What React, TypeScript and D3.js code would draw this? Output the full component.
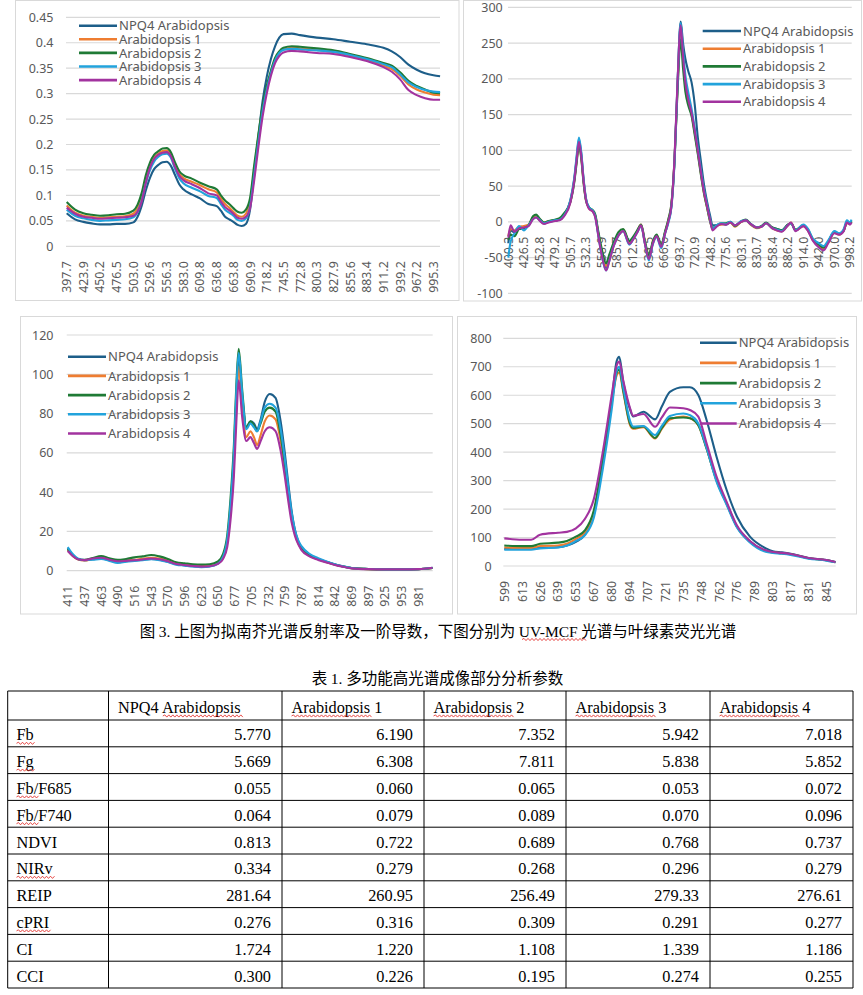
import * as d3 from 'd3';

const seriesNames = ['NPQ4 Arabidopsis', 'Arabidopsis 1', 'Arabidopsis 2', 'Arabidopsis 3', 'Arabidopsis 4'];
const seriesColors = ['#1d5e89', '#ee7d31', '#1f7a35', '#22a3dc', '#a2339f'];

// ---- reflectance (top left)
const reflTicks = [397.7, 423.9, 450.2, 476.5, 503.0, 529.6, 556.3, 583.0, 609.8, 636.8, 663.8, 690.9, 718.2, 745.5, 772.8, 800.3, 827.9, 855.6, 883.4, 911.2, 939.2, 967.2, 995.3];
const reflY = [0, 0.05, 0.1, 0.15, 0.2, 0.25, 0.3, 0.35, 0.4, 0.45];
const reflWl = [397.7, 410.8, 423.9, 437.0, 450.2, 463.3, 476.5, 489.8, 503.0, 509.7, 516.3, 522.9, 529.6, 536.3, 543.0, 549.6, 556.3, 563.0, 569.6, 576.3, 583.0, 596.4, 609.8, 623.3, 636.8, 643.5, 650.3, 657.0, 663.8, 670.6, 677.3, 684.1, 690.9, 697.7, 704.5, 711.4, 718.2, 725.0, 731.8, 738.7, 745.5, 759.1, 772.8, 800.3, 827.9, 855.6, 883.4, 911.2, 925.2, 939.2, 953.2, 967.2, 981.2, 995.3, 1006.5];
const reflNpq4 = [0.065, 0.053, 0.048, 0.045, 0.043, 0.043, 0.044, 0.044, 0.047, 0.058, 0.080, 0.110, 0.135, 0.152, 0.160, 0.165, 0.166, 0.158, 0.140, 0.122, 0.112, 0.102, 0.094, 0.083, 0.079, 0.070, 0.058, 0.053, 0.048, 0.042, 0.040, 0.044, 0.072, 0.145, 0.215, 0.285, 0.333, 0.368, 0.393, 0.410, 0.417, 0.418, 0.415, 0.410, 0.407, 0.402, 0.397, 0.390, 0.383, 0.372, 0.357, 0.347, 0.340, 0.336, 0.334];
const reflA1 = [0.080, 0.066, 0.060, 0.058, 0.056, 0.057, 0.058, 0.059, 0.064, 0.075, 0.098, 0.132, 0.158, 0.174, 0.182, 0.187, 0.188, 0.180, 0.160, 0.143, 0.134, 0.127, 0.120, 0.112, 0.106, 0.094, 0.083, 0.076, 0.068, 0.060, 0.058, 0.064, 0.088, 0.150, 0.215, 0.270, 0.310, 0.342, 0.367, 0.380, 0.387, 0.390, 0.389, 0.386, 0.382, 0.375, 0.366, 0.355, 0.348, 0.335, 0.318, 0.308, 0.302, 0.298, 0.297];
const reflA2 = [0.087, 0.072, 0.065, 0.062, 0.060, 0.061, 0.063, 0.064, 0.070, 0.082, 0.105, 0.140, 0.165, 0.180, 0.187, 0.192, 0.193, 0.185, 0.165, 0.148, 0.140, 0.133, 0.125, 0.118, 0.112, 0.100, 0.090, 0.083, 0.075, 0.068, 0.066, 0.072, 0.095, 0.160, 0.220, 0.275, 0.315, 0.345, 0.370, 0.383, 0.390, 0.393, 0.392, 0.389, 0.385, 0.378, 0.370, 0.360, 0.355, 0.342, 0.325, 0.315, 0.308, 0.302, 0.301];
const reflA3 = [0.072, 0.060, 0.055, 0.052, 0.050, 0.051, 0.052, 0.053, 0.057, 0.068, 0.090, 0.124, 0.150, 0.167, 0.176, 0.181, 0.182, 0.174, 0.152, 0.134, 0.124, 0.115, 0.108, 0.099, 0.095, 0.083, 0.072, 0.066, 0.060, 0.052, 0.050, 0.055, 0.078, 0.140, 0.205, 0.265, 0.307, 0.340, 0.365, 0.380, 0.386, 0.388, 0.387, 0.385, 0.382, 0.376, 0.368, 0.358, 0.352, 0.338, 0.322, 0.313, 0.307, 0.304, 0.303];
const reflA4 = [0.076, 0.064, 0.058, 0.056, 0.054, 0.055, 0.056, 0.057, 0.060, 0.068, 0.088, 0.125, 0.155, 0.172, 0.180, 0.184, 0.185, 0.177, 0.156, 0.139, 0.130, 0.122, 0.114, 0.104, 0.100, 0.088, 0.077, 0.071, 0.064, 0.056, 0.054, 0.058, 0.075, 0.130, 0.195, 0.255, 0.300, 0.335, 0.360, 0.374, 0.381, 0.384, 0.383, 0.380, 0.378, 0.372, 0.364, 0.352, 0.343, 0.328, 0.307, 0.297, 0.291, 0.288, 0.288];

// ---- first derivative (top right)
const derivTicks = [400.3, 426.5, 452.8, 479.2, 505.7, 532.3, 558.9, 585.7, 612.5, 639.5, 666.6, 693.7, 720.9, 748.2, 775.6, 803.1, 830.7, 858.4, 886.2, 914.0, 942.0, 970.0, 998.2];
const derivY = [-100, -50, 0, 50, 100, 150, 200, 250, 300];
const derivWl = [400.3, 404.2, 410.8, 418.6, 426.5, 434.4, 442.3, 447.5, 452.8, 460.7, 468.6, 479.2, 487.2, 495.1, 505.7, 512.4, 516.3, 520.3, 524.3, 528.3, 532.3, 537.6, 544.3, 548.3, 553.6, 558.9, 566.9, 572.3, 580.3, 588.4, 596.4, 607.1, 612.5, 620.6, 627.4, 634.1, 640.9, 647.6, 654.4, 662.5, 669.3, 674.7, 680.2, 685.6, 691.0, 696.4, 700.5, 704.6, 710.0, 715.5, 720.9, 726.4, 731.8, 737.3, 742.7, 748.2, 752.3, 759.2, 767.4, 775.6, 783.9, 792.1, 803.1, 811.4, 819.7, 830.7, 839.0, 847.3, 858.4, 866.7, 875.1, 886.2, 891.8, 900.1, 914.0, 922.4, 930.8, 942.0, 950.4, 958.8, 970.0, 978.5, 986.9, 992.6, 998.2, 1001.0];
const derivNpq4 = [-30, -12, -15, -8, -8, -5, 5, 7, 3, -2, 0, 2, 3, 10, 30, 60, 88, 115, 95, 58, 32, 20, 15, 8, -18, -42, -64, -52, -32, -18, -12, -30, -25, -14, -5, -30, -50, -30, -20, -34, -15, 0, 22, 85, 195, 280, 250, 228, 210, 195, 165, 118, 85, 52, 28, 8, -5, -5, -3, -4, -1, -5, 0, 2, -3, -8, -6, -2, -8, -10, -12, -4, -2, -12, -5, -12, -25, -33, -37, -28, -14, -17, -12, 0, -3, 0];
const derivA1 = [-20, -10, -12, -7, -6, -4, 6, 7, 4, -1, 1, 2, 4, 10, 28, 58, 85, 110, 90, 55, 30, 19, 14, 8, -17, -40, -62, -50, -30, -17, -11, -29, -24, -13, -4, -29, -50, -29, -19, -33, -14, 2, 24, 85, 190, 268, 228, 192, 168, 150, 125, 97, 68, 40, 20, 0, -10, -6, -4, -3, -1, -7, 0, 2, -4, -9, -7, -2, -9, -12, -13, -5, -1, -12, -6, -12, -25, -34, -38, -29, -15, -18, -12, -2, -3, 0];
const derivA2 = [-25, -18, -20, -10, -9, -5, 8, 10, 5, -1, 1, 3, 5, 12, 28, 56, 82, 108, 88, 54, 30, 20, 16, 10, -14, -36, -58, -46, -28, -14, -10, -27, -22, -12, -4, -27, -47, -28, -18, -32, -13, 3, 25, 85, 185, 255, 215, 182, 162, 148, 122, 95, 66, 40, 20, 0, -9, -5, -2, -2, 0, -6, 1, 3, -3, -8, -6, -1, -8, -10, -12, -4, -2, -11, -5, -11, -24, -32, -36, -28, -14, -17, -12, -1, -2, 1];
const derivA3 = [-50, -28, -16, -6, -12, -5, 4, 6, 3, -2, 0, 2, 3, 9, 30, 62, 92, 118, 97, 60, 33, 20, 15, 7, -20, -45, -68, -55, -33, -19, -13, -32, -26, -15, -6, -31, -54, -32, -21, -37, -16, -2, 20, 82, 195, 278, 240, 205, 180, 158, 132, 103, 73, 45, 24, 3, -10, -5, -2, -3, 0, -5, 1, 2, -3, -8, -7, -2, -9, -11, -13, -5, -2, -12, -4, -10, -23, -30, -34, -26, -13, -16, -10, 2, -1, 3];
const derivA4 = [-22, -5, -14, -9, -8, -6, 4, 6, 2, -3, -1, 1, 2, 8, 27, 58, 86, 112, 92, 57, 31, 18, 14, 6, -20, -45, -68, -55, -33, -19, -13, -31, -26, -15, -5, -31, -52, -31, -20, -35, -16, 0, 22, 88, 198, 275, 232, 195, 170, 152, 128, 100, 70, 42, 22, 2, -12, -7, -3, -4, -1, -5, 0, 2, -3, -8, -7, -2, -9, -12, -14, -5, -1, -13, -6, -13, -26, -36, -40, -30, -16, -18, -13, -1, -4, -1];

// ---- UV-MCF (bottom left)
const mcfTicks = [411, 437, 463, 490, 516, 543, 570, 596, 623, 650, 677, 705, 732, 759, 787, 814, 842, 869, 897, 925, 953, 981];
const mcfY = [0, 20, 40, 60, 80, 100, 120];
const mcfWl = [411, 418.8, 426.6, 437, 450, 463, 476.5, 490, 503, 516, 529.5, 543, 556.5, 570, 583, 596, 609.5, 623, 636.5, 650, 658.1, 664.9, 670.3, 675.7, 679.8, 683.7, 689.6, 696.6, 703.3, 709.1, 714.2, 719.9, 726.6, 734.7, 744.0, 752.3, 759, 764.6, 770.2, 775.8, 781.4, 787, 800.5, 814, 828, 842, 855.5, 869, 897, 925, 953, 981, 1004.8];
const mcfNpq4 = [11.5, 8, 6, 5.3, 5.8, 6.2, 5.3, 4.3, 4.8, 5.2, 5.6, 6, 5.6, 4.6, 3.3, 2.8, 2.3, 2, 2.3, 3.8, 7, 15, 32, 58, 88, 108, 88, 73, 76, 75, 72, 77, 86, 90, 88, 76, 60, 45, 31, 21, 15, 12, 8, 6, 4.5, 3.2, 2.2, 1.4, 0.9, 0.7, 0.7, 0.8, 1.4];
const mcfA1 = [10.5, 7.5, 5.8, 5.2, 6, 6.5, 5.6, 4.8, 5.2, 5.6, 6, 6.6, 6.2, 5.2, 3.8, 3.2, 2.7, 2.4, 2.6, 4, 7, 14, 30, 55, 84, 104, 84, 68, 71, 68, 64, 69, 76, 79, 77, 66, 52, 39, 27, 19, 14, 11, 7.5, 5.8, 4.3, 3, 2.1, 1.3, 0.8, 0.7, 0.7, 0.8, 1.4];
const mcfA2 = [11, 8, 6, 5.5, 6.5, 7.5, 6.3, 5.5, 6, 6.8, 7.3, 8, 7.3, 6, 4.3, 3.8, 3.3, 3.1, 3.3, 4.8, 8.5, 18, 37, 64, 95, 113, 92, 73, 76, 74, 71, 75, 81, 83, 81, 69, 54, 40, 28, 20, 14.5, 11.5, 7.8, 6, 4.4, 3.1, 2.1, 1.3, 0.8, 0.7, 0.7, 0.8, 1.4];
const mcfA3 = [12, 8.5, 6.2, 5.4, 5.6, 6, 5, 4, 4.6, 5, 5.4, 5.8, 5.4, 4.4, 3.1, 2.6, 2.1, 1.8, 2.1, 3.6, 7, 16, 34, 60, 92, 111, 90, 72, 75, 73, 71, 76, 83, 85, 83, 72, 57, 43, 30, 21, 15.5, 12.5, 8.5, 6.4, 4.7, 3.3, 2.2, 1.4, 0.9, 0.7, 0.7, 0.8, 1.5];
const mcfA4 = [10, 7.5, 5.8, 5.4, 6.2, 6.6, 5.6, 4.8, 5, 5.3, 5.7, 6.2, 5.8, 4.8, 3.4, 2.9, 2.4, 2.1, 2.3, 3.5, 6, 12, 26, 48, 76, 97, 78, 66, 68, 65, 62, 66, 71, 73, 71, 61, 48, 36, 25, 18, 13.5, 10.5, 7.2, 5.5, 4.2, 2.9, 2, 1.2, 0.8, 0.7, 0.7, 0.8, 1.5];

// ---- chlorophyll fluorescence (bottom right)
const chlTicks = [599, 613, 626, 639, 653, 667, 680, 694, 707, 721, 735, 748, 762, 776, 789, 803, 817, 831, 845];
const chlY = [0, 100, 200, 300, 400, 500, 600, 700, 800];
const chlWl = [599, 613, 619.5, 626, 639, 646, 653, 660, 667, 673.5, 680, 683.9, 685.9, 689.1, 694.3, 696.6, 704, 712.9, 718.2, 724.5, 735, 739.8, 745.9, 752.2, 760, 767.9, 776, 785.4, 797.6, 803, 810, 817, 831, 845, 852];
const chlNpq4 = [60, 60, 60, 64, 66, 72, 85, 110, 180, 370, 580, 720, 735, 645, 550, 525, 542, 515, 560, 612, 628, 628, 601, 513, 384, 267, 173, 103, 62, 52, 48, 43, 28, 21, 14];
const chlA1 = [65, 63, 63, 70, 72, 78, 95, 118, 185, 365, 570, 670, 680, 610, 495, 482, 488, 448, 482, 515, 525, 520, 495, 413, 300, 218, 138, 85, 52, 48, 45, 41, 27, 20, 13];
const chlA2 = [72, 70, 70, 78, 82, 88, 103, 125, 195, 370, 575, 680, 690, 615, 500, 485, 490, 450, 485, 519, 522, 519, 495, 413, 302, 220, 138, 86, 53, 48, 45, 41, 27, 20, 13];
const chlA3 = [57, 57, 57, 62, 65, 72, 88, 108, 170, 340, 550, 685, 700, 625, 510, 490, 492, 460, 492, 527, 536, 530, 501, 415, 296, 215, 135, 83, 50, 46, 43, 39, 26, 19, 13];
const chlA4 = [97, 92, 92, 110, 117, 120, 132, 165, 235, 400, 600, 705, 718, 650, 555, 528, 534, 489, 522, 557, 554, 548, 525, 431, 314, 225, 142, 88, 55, 49, 46, 42, 28, 21, 14];

// ---- table
const paramNames = ['Fb', 'Fg', 'Fb/F685', 'Fb/F740', 'NDVI', 'NIRv', 'REIP', 'cPRI', 'CI', 'CCI'];
const paramDigits = [3, 3, 3, 3, 3, 3, 2, 3, 3, 3];
const paramNpq4 = [5.770, 5.669, 0.055, 0.064, 0.813, 0.334, 281.64, 0.276, 1.724, 0.300];
const paramA1 = [6.190, 6.308, 0.060, 0.079, 0.722, 0.279, 260.95, 0.316, 1.220, 0.226];
const paramA2 = [7.352, 7.811, 0.065, 0.089, 0.689, 0.268, 256.49, 0.309, 1.108, 0.195];
const paramA3 = [5.942, 5.838, 0.053, 0.070, 0.768, 0.296, 279.33, 0.291, 1.339, 0.274];
const paramA4 = [7.018, 5.852, 0.072, 0.096, 0.737, 0.279, 276.61, 0.277, 1.186, 0.255];

const FONT = "'Noto Sans', 'DejaVu Sans', sans-serif";
const SERIF = "'Liberation Serif', 'Times New Roman', serif";
const CJK = "'Noto Sans CJK SC', sans-serif";
const GRID = '#d9d9d9';
const INK = '#595959';

interface Layout {
  box: [number, number, number, number];
  left: number; right: number;
  yTop: number; yBottom: number;
  x0: number; step: number;
  yLabelX: number;
  legendX: number; legendY: number; legendDy: number; legendLen: number;
}

function SpectrumPanel({ layout, wl, series, xTicks, digits, yTicks }: {
  layout: Layout; wl: number[]; series: number[][]; xTicks: number[]; digits: number; yTicks: number[];
}) {
  const x = d3.scaleLinear()
    .domain(xTicks)
    .range(xTicks.map((_, i) => layout.x0 + i * layout.step));
  const y = d3.scaleLinear()
    .domain(d3.extent(yTicks) as [number, number])
    .range([layout.yBottom, layout.yTop]);
  const line = d3.line<number>()
    .x((_, i) => x(wl[i]))
    .y(d => y(d))
    .curve(d3.curveMonotoneX);
  const axisY = y(0);
  const [bx, by, bw, bh] = layout.box;

  return (
    <g>
      <rect x={bx} y={by} width={bw} height={bh} fill="#fff" stroke={GRID} />
      {yTicks.map(t => (
        <line key={'g' + t} x1={layout.left} x2={layout.right} y1={y(t)} y2={y(t)} stroke={GRID} strokeWidth={1.2} />
      ))}
      {yTicks.map(t => (
        <text key={'y' + t} x={layout.yLabelX} y={y(t)} dy="0.36em" textAnchor="end"
          fontFamily={FONT} fontSize={12.5} fill={INK}>{String(t)}</text>
      ))}
      {xTicks.map(t => (
        <text key={'x' + t} transform={`translate(${x(t)},${axisY + 15}) rotate(-90)`}
          dy="0.36em" textAnchor="end" fontFamily={FONT} fontSize={12.3} fill={INK}>
          {t.toFixed(digits)}
        </text>
      ))}
      {series.map((s, k) => (
        <path key={'s' + k} d={line(s) ?? ''} fill="none" stroke={seriesColors[k]}
          strokeWidth={2.1} strokeLinejoin="round" />
      ))}
      {seriesNames.map((name, k) => {
        const ly = layout.legendY + k * layout.legendDy;
        return (
          <g key={'l' + k}>
            <line x1={layout.legendX} x2={layout.legendX + layout.legendLen} y1={ly} y2={ly}
              stroke={seriesColors[k]} strokeWidth={2.6} />
            <text x={layout.legendX + layout.legendLen + 2} y={ly} dy="0.36em"
              fontFamily={FONT} fontSize={13} fill={INK}>{name}</text>
          </g>
        );
      })}
    </g>
  );
}

const reflLayout: Layout = {
  box: [15.5, 0.5, 443.5, 300], left: 66, right: 440, yTop: 17.3, yBottom: 246.3,
  x0: 66.7, step: 16.67, yLabelX: 53.5,
  legendX: 79, legendY: 25.7, legendDy: 13.6, legendLen: 38,
};
const derivLayout: Layout = {
  box: [463.5, 0.5, 398, 300.5], left: 508, right: 851.7, yTop: 7.3, yBottom: 293.3,
  x0: 508.3, step: 15.53, yLabelX: 502.7,
  legendX: 702.7, legendY: 31, legendDy: 17.7, legendLen: 38.3,
};
const mcfLayout: Layout = {
  box: [20.5, 316.5, 432, 297.5], left: 66.7, right: 432.7, yTop: 335, yBottom: 570.7,
  x0: 67.7, step: 16.7, yLabelX: 53.5,
  legendX: 68, legendY: 356.7, legendDy: 19.2, legendLen: 38,
};
const chlLayout: Layout = {
  box: [457.5, 316.5, 399, 297.5], left: 503.3, right: 835.7, yTop: 338.3, yBottom: 566,
  x0: 504.3, step: 17.9, yLabelX: 491.7,
  legendX: 700, legendY: 342.7, legendDy: 20.2, legendLen: 36.7,
};

function squiggle(x1: number, x2: number, y: number) {
  let d = `M${x1},${y}`;
  let k = 0;
  for (let xx = x1; xx < x2; xx += 2, k++) d += ` L${xx + 2},${y + (k % 2 ? 1.1 : -1.1)}`;
  return d;
}

function ParamTable() {
  const colX = [7.7, 108.5, 282, 424, 566, 710, 853];
  const top = 691;
  const headBottom = 720;
  const rowH = 26.8;
  const fs = 16.3;
  const sampleVals = [paramNpq4, paramA1, paramA2, paramA3, paramA4];
  const bottom = headBottom + rowH * paramNames.length;
  const hLines = [top, headBottom, ...paramNames.map((_, i) => headBottom + rowH * (i + 1))];
  const squiggleRows: Record<string, number> = { Fb: 1.06, Fg: 1.06, 'Fb/F685': 1.3, 'Fb/F740': 1.3, NIRv: 2.22, cPRI: 2.0 };

  return (
    <g fontFamily={SERIF} fontSize={fs} fill="#000">
      {hLines.map((yy, i) => <line key={'h' + i} x1={colX[0]} x2={colX[6]} y1={yy} y2={yy} stroke="#000" />)}
      {colX.map((xx, i) => <line key={'v' + i} x1={xx} x2={xx} y1={top} y2={bottom} stroke="#000" />)}
      {seriesNames.map((name, j) => {
        const tx = colX[j + 1] + 9.5;
        const ty = headBottom - 7;
        const pre = j === 0 ? 2.75 * fs : 0;
        return (
          <g key={'hd' + j}>
            <text x={tx} y={ty}>{name}</text>
            <path d={squiggle(tx + pre, tx + pre + 4.83 * fs, ty + 3)} stroke="#e0201c" strokeWidth={0.8} fill="none" />
          </g>
        );
      })}
      {paramNames.map((p, i) => {
        const ty = headBottom + rowH * (i + 1) - 6.5;
        const sq = squiggleRows[p];
        return (
          <g key={'r' + i}>
            <text x={16.5} y={ty}>{p}</text>
            {sq && <path d={squiggle(16.5, 16.5 + sq * fs, ty + 3)} stroke="#e0201c" strokeWidth={0.8} fill="none" />}
            {sampleVals.map((vals, j) => (
              <text key={j} x={colX[j + 2] - 11} y={ty} textAnchor="end">{vals[i].toFixed(paramDigits[i])}</text>
            ))}
          </g>
        );
      })}
    </g>
  );
}

export default function App() {
  return (
    <div style={{ position: 'absolute', left: 0, top: 0 }}>
      <svg width={863} height={995} style={{ display: 'block', background: '#fff' }}>
        <rect width={863} height={995} fill="#fff" />
        <SpectrumPanel layout={reflLayout} wl={reflWl} xTicks={reflTicks} digits={1} yTicks={reflY}
          series={[reflNpq4, reflA1, reflA2, reflA3, reflA4]} />
        <SpectrumPanel layout={derivLayout} wl={derivWl} xTicks={derivTicks} digits={1} yTicks={derivY}
          series={[derivNpq4, derivA1, derivA2, derivA3, derivA4]} />
        <SpectrumPanel layout={mcfLayout} wl={mcfWl} xTicks={mcfTicks} digits={0} yTicks={mcfY}
          series={[mcfNpq4, mcfA1, mcfA2, mcfA3, mcfA4]} />
        <SpectrumPanel layout={chlLayout} wl={chlWl} xTicks={chlTicks} digits={0} yTicks={chlY}
          series={[chlNpq4, chlA1, chlA2, chlA3, chlA4]} />

        <text x={438} y={636.5} textAnchor="middle" fontSize={15.5} fill="#000">
          <tspan fontFamily={CJK}>图 </tspan>
          <tspan fontFamily={SERIF}>3. </tspan>
          <tspan fontFamily={CJK}>上图为拟南芥光谱反射率及一阶导数，下图分别为 </tspan>
          <tspan fontFamily={SERIF}>UV-MCF</tspan>
          <tspan fontFamily={CJK}> 光谱与叶绿素荧光光谱</tspan>
        </text>
        <path d={squiggle(522, 586, 639.5)} stroke="#e0201c" strokeWidth={0.8} fill="none" />

        <text x={437.5} y={683.5} textAnchor="middle" fontSize={15.5} fill="#000">
          <tspan fontFamily={CJK}>表 </tspan>
          <tspan fontFamily={SERIF}>1. </tspan>
          <tspan fontFamily={CJK}>多功能高光谱成像部分分析参数</tspan>
        </text>

        <ParamTable />
      </svg>
    </div>
  );
}
